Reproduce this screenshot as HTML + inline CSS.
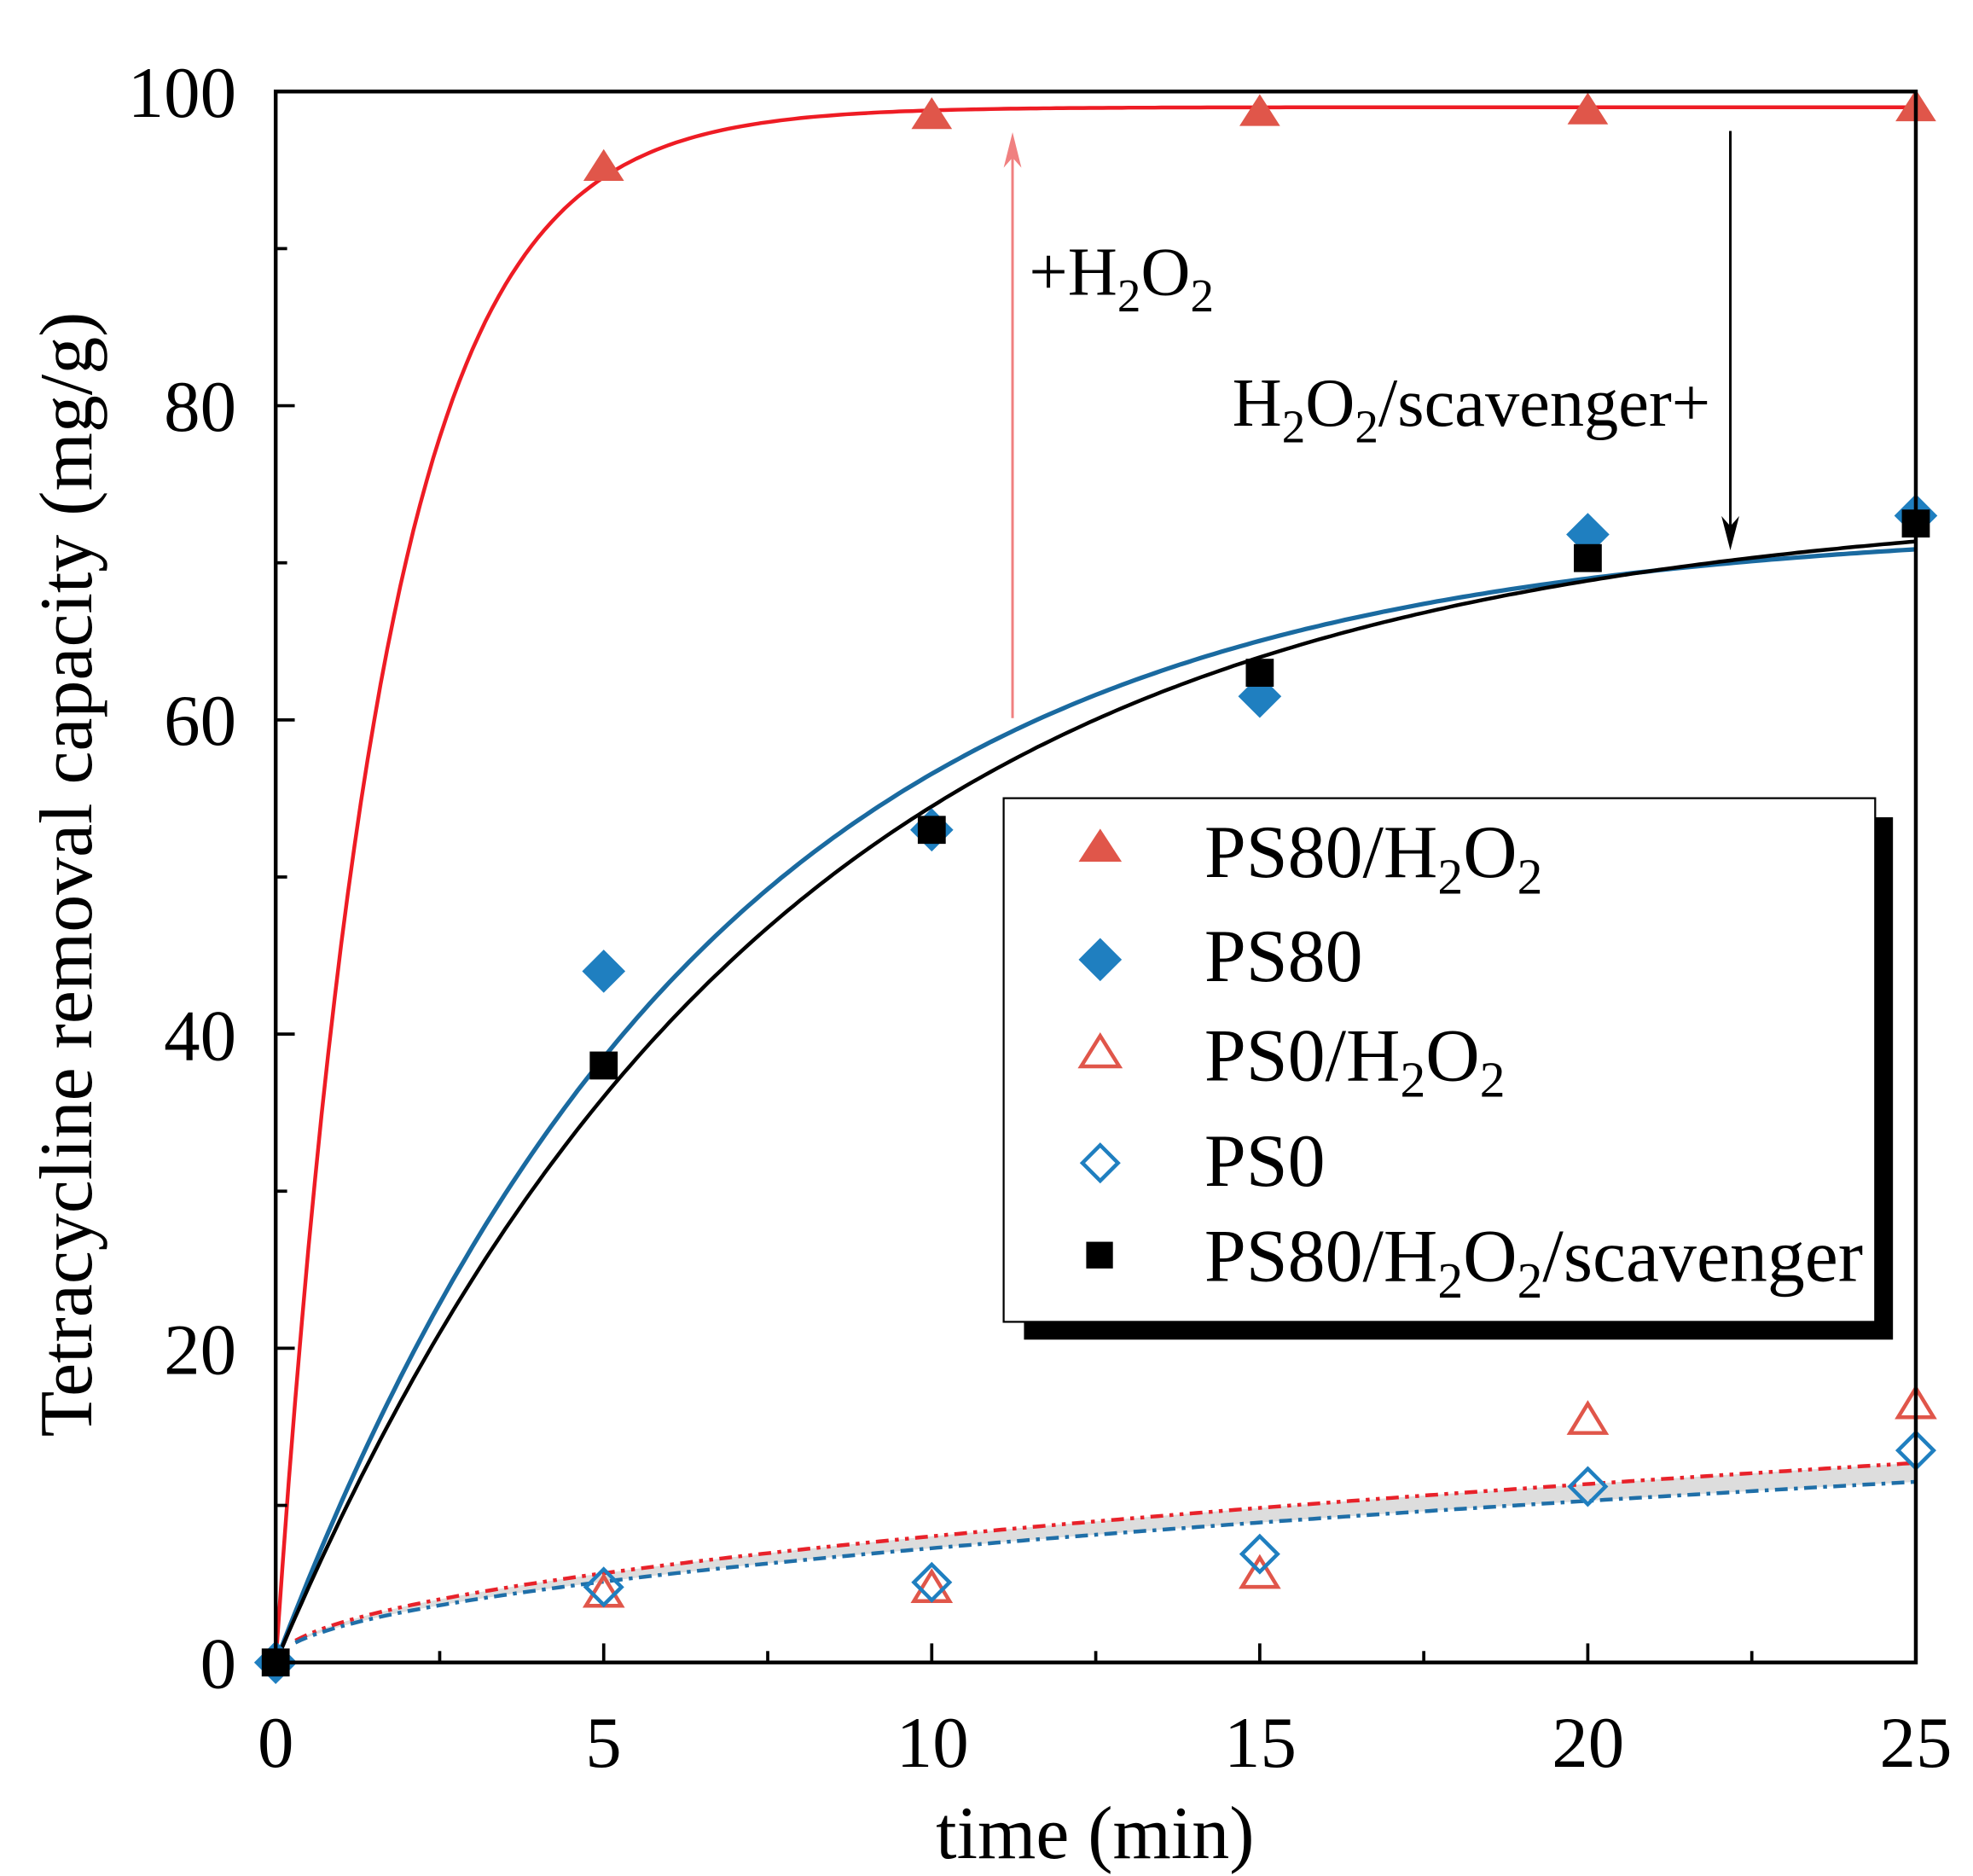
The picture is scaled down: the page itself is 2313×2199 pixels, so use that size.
<!DOCTYPE html>
<html><head><meta charset="utf-8"><style>html,body{margin:0;padding:0;background:#fff}svg{display:block}</style></head>
<body>
<svg id="s" width="2313" height="2199" viewBox="0 0 1553 1476" preserveAspectRatio="none" xmlns="http://www.w3.org/2000/svg" font-family="'Liberation Serif',serif">
<rect width="1553" height="1476" fill="#fff"/>
<g id="g"></g>
<!-- legend -->
<rect x="806" y="643" width="684" height="411" fill="#000"/>
<rect x="790" y="628" width="686" height="412" fill="#fff" stroke="#000" stroke-width="1.5"/>
<polygon points="866,652 849,678 883,678" fill="#e0564a"/>
<polygon points="866,738 883,755 866,772 849,755" fill="#1f7fc0"/>
<polygon points="866,815 851,839 881,839" fill="none" stroke="#e0564a" stroke-width="3"/>
<polygon points="866,901 880,915 866,929 852,915" fill="none" stroke="#1f7fc0" stroke-width="3"/>
<rect x="855" y="977" width="21" height="21" fill="#000"/>
<g font-size="59" fill="#000">
<text x="948" y="690">PS80/H<tspan font-size="40" dy="13">2</tspan><tspan dy="-13">O</tspan><tspan font-size="40" dy="13">2</tspan></text>
<text x="948" y="772">PS80</text>
<text x="948" y="850">PS0/H<tspan font-size="40" dy="13">2</tspan><tspan dy="-13">O</tspan><tspan font-size="40" dy="13">2</tspan></text>
<text x="948" y="933">PS0</text>
<text x="948" y="1008">PS80/H<tspan font-size="40" dy="13">2</tspan><tspan dy="-13">O</tspan><tspan font-size="40" dy="13">2</tspan><tspan dy="-13">/scavenger</tspan></text>
</g>
<!-- annotations -->
<line x1="797" y1="565" x2="797" y2="112" stroke="#f08080" stroke-width="2"/>
<polygon points="797,104 790,132 797,124 804,132" fill="#f08080"/>
<line x1="1362" y1="103" x2="1362" y2="420" stroke="#000" stroke-width="2"/>
<polygon points="1362,433 1355,406 1362,414 1369,406" fill="#000"/>
<g font-size="54" fill="#000">
<text x="810" y="232">+H<tspan font-size="37" dy="13">2</tspan><tspan dy="-13">O</tspan><tspan font-size="37" dy="13">2</tspan></text>
<text x="970" y="335">H<tspan font-size="37" dy="13">2</tspan><tspan dy="-13">O</tspan><tspan font-size="37" dy="13">2</tspan><tspan dy="-13">/scavenger+</tspan></text>
</g>
<!-- axes labels -->
<g font-size="57" fill="#000" text-anchor="middle">
<text x="217" y="1390">0</text><text x="475" y="1390">5</text><text x="734" y="1390">10</text>
<text x="992" y="1390">15</text><text x="1250" y="1390">20</text><text x="1508" y="1390">25</text>
</g>
<g font-size="57" fill="#000" text-anchor="end">
<text x="186" y="1328">0</text><text x="186" y="1081">20</text><text x="186" y="834">40</text>
<text x="186" y="586">60</text><text x="186" y="339">80</text><text x="186" y="92">100</text>
</g>
<text x="862" y="1462" font-size="59" text-anchor="middle">time (min)</text>
<text transform="translate(72,688) rotate(-90)" font-size="59" text-anchor="middle">Tetracycline removal capacity (mg/g)</text>
<rect x="217" y="72" width="1291" height="1236" fill="none" stroke="#000" stroke-width="3"/>
</svg>
<script>
var X=t=>217+t*1291/25, Y=v=>1308-v*12.36;
var g=document.getElementById('g'),h='';
function path(f,t0,col,w,dash){var d='';for(var i=0;i<=250;i++){var t=t0+(25-t0)*i/250;d+=(i?'L':'M')+X(t).toFixed(1)+' '+Y(f(t)).toFixed(1);}h+='<path d="'+d+'" fill="none" stroke="'+col+'" stroke-width="'+w+'"'+(dash?' stroke-dasharray="'+dash+'"':'')+'/>';}
var fr=t=>2.54*Math.sqrt(t), fb=t=>2.3*Math.sqrt(t);
var d='';for(var i=0;i<=100;i++){var t=0.3+24.7*i/100;d+=(i?'L':'M')+X(t)+' '+Y(fr(t));}
for(var i=100;i>=0;i--){var t=0.3+24.7*i/100;d+='L'+X(t)+' '+Y(fb(t));}
h+='<path d="'+d+'Z" fill="#ddd"/>';
path(fr,0.3,'#e8222a',3,'10,5,3,5,3,5');
path(fb,0.3,'#1f6fa8',3,'10,5,3,5');
path(t=>99*(1-Math.exp(-0.62*t)),0,'#ee1c24',3);
path(t=>72.5*(1-Math.exp(-t/6.6)),0,'#1a6aa0',3.5);
path(t=>74*(1-Math.exp(-t/7.5)),0,'#000',3);
for(var i=0;i<=10;i++){var x=X(i*2.5);h+='<line x1="'+x+'" x2="'+x+'" y1="1308" y2="'+(1308-(i%2?9:15))+'" stroke="#000" stroke-width="2.5"/>';}
for(var i=0;i<=10;i++){var y=Y(i*10);h+='<line y1="'+y+'" y2="'+y+'" x1="217" x2="'+(217+(i%2?9:15))+'" stroke="#000" stroke-width="2.5"/>';}
function tri(t,v,fill){var x=X(t),y=Y(v);h+=fill?'<polygon points="'+x+','+(y-14)+' '+(x-16)+','+(y+11)+' '+(x+16)+','+(y+11)+'" fill="#e0564a"/>':'<polygon points="'+x+','+(y-12)+' '+(x-14)+','+(y+11)+' '+(x+14)+','+(y+11)+'" fill="none" stroke="#e0564a" stroke-width="3"/>';}
function dia(t,v,fill){var x=X(t),y=Y(v),r=fill?17:14;h+='<polygon points="'+x+','+(y-r)+' '+(x+r)+','+y+' '+x+','+(y+r)+' '+(x-r)+','+y+'" '+(fill?'fill="#1f7fc0"':'fill="none" stroke="#1f7fc0" stroke-width="3"')+'/>';}
function sq(t,v){var x=X(t),y=Y(v);h+='<rect x="'+(x-11)+'" y="'+(y-11)+'" width="22" height="22" fill="#000"/>';}
[[5,4.5],[10,4.8],[15,5.7],[20,15.5],[25,16.5]].forEach(p=>tri(p[0],p[1],0));
[[5,4.8],[10,5.1],[15,6.9],[20,11.2],[25,13.5]].forEach(p=>dia(p[0],p[1],0));
[[5,95.2],[10,98.5],[15,98.7],[20,98.8],[25,99]].forEach(p=>tri(p[0],p[1],1));
[[0,0],[5,44],[10,53],[15,61.5],[20,71.8],[25,73]].forEach(p=>dia(p[0],p[1],1));
[[0,0],[5,38],[10,53],[15,63],[20,70.3],[25,72.5]].forEach(p=>sq(p[0],p[1]));
g.innerHTML=h;
</script>
</body></html>
